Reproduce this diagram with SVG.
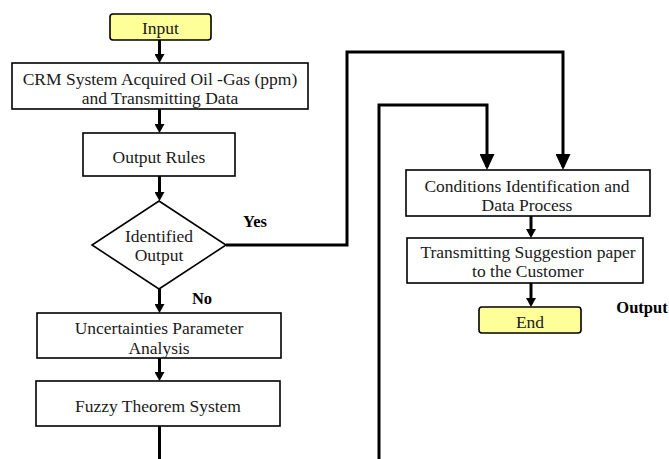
<svg xmlns="http://www.w3.org/2000/svg" width="669" height="459" viewBox="0 0 669 459">
<style>
.box{fill:#ffffff;stroke:#000;stroke-width:1.6}
.term{fill:#ffff99;stroke:#000;stroke-width:1.6}
.t{font-family:"Liberation Serif","Times New Roman",serif;font-size:17.5px;fill:#1a1a1a;text-anchor:middle}
.b{font-family:"Liberation Serif","Times New Roman",serif;font-size:16.5px;font-weight:bold;fill:#000;text-anchor:middle}
.c{fill:none;stroke:#000;stroke-width:3}
.cs{marker-end:url(#as)}
.cb{marker-end:url(#ab)}
</style>
<defs>
<marker id="as" markerUnits="userSpaceOnUse" markerWidth="10" markerHeight="10" refX="6" refY="5" orient="auto" viewBox="0 0 9 10">
<path d="M0,0 L9,5 L0,10 z" fill="#000"/>
</marker>
<marker id="ab" markerUnits="userSpaceOnUse" markerWidth="16" markerHeight="15" refX="13" refY="7.5" orient="auto" viewBox="0 0 16 15">
<path d="M0,0 L16,7.5 L0,15 z" fill="#000"/>
</marker>
</defs>
<g id="connectors">
<path class="c cs" d="M159.5,40 V60"/>
<path class="c cs" d="M159.5,109 V130"/>
<path class="c cs" d="M159.5,176 V198"/>
<path class="c cs" d="M159.5,289 V310"/>
<path class="c cs" d="M159.5,358 V378"/>
<path class="c" d="M159.5,426 V459"/>
<path class="c cb" d="M226,245 H347 V52 H563 V167"/>
<path class="c cb" d="M379,459 V105 H487 V167"/>
<path class="c cs" d="M531,216 V235"/>
<path class="c cs" d="M531,283 V304"/>
</g>
<g id="input">
<rect class="term" x="110" y="14" width="101" height="26" rx="3"/>
<text class="t" x="160.5" y="34">Input</text>
</g>
<g id="crm">
<rect class="box" x="12" y="63" width="296" height="46"/>
<text class="t" x="160" y="85">CRM System Acquired Oil -Gas (ppm)</text>
<text class="t" x="160" y="104">and Transmitting Data</text>
</g>
<g id="rules">
<rect class="box" x="83" y="133" width="152" height="43"/>
<text class="t" x="159" y="163">Output Rules</text>
</g>
<g id="decision">
<polygon class="box" points="159,201 226,245 159,289 92,245"/>
<text class="t" x="159" y="242">Identified</text>
<text class="t" x="159" y="261">Output</text>
</g>
<g id="labels">
<text class="b" x="255" y="227">Yes</text>
<text class="b" x="202" y="304">No</text>
<text class="b" x="642" y="313">Output</text>
</g>
<g id="uncert">
<rect class="box" x="37" y="313" width="244" height="45"/>
<text class="t" x="159" y="334">Uncertainties Parameter</text>
<text class="t" x="159" y="354">Analysis</text>
</g>
<g id="fuzzy">
<rect class="box" x="36" y="381" width="244" height="45"/>
<text class="t" x="158" y="412">Fuzzy Theorem System</text>
</g>
<g id="conditions">
<rect class="box" x="406" y="170" width="244" height="46"/>
<text class="t" x="527" y="192">Conditions Identification and</text>
<text class="t" x="527" y="211">Data Process</text>
</g>
<g id="transmit">
<rect class="box" x="407" y="238" width="236" height="45"/>
<text class="t" x="528" y="258">Transmitting Suggestion paper</text>
<text class="t" x="528" y="277">to the Customer</text>
</g>
<g id="end">
<rect class="term" x="479" y="307" width="102" height="26" rx="3"/>
<text class="t" x="530" y="328">End</text>
</g>
</svg>
